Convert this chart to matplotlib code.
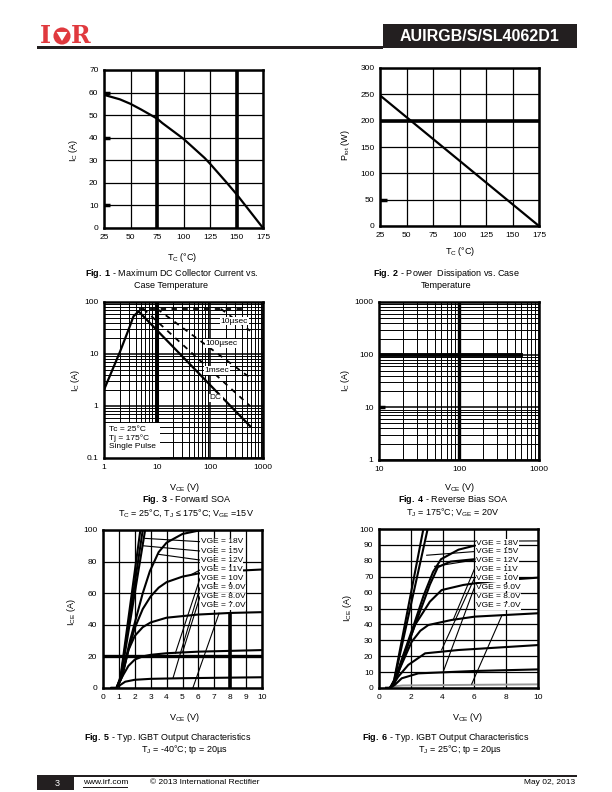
import matplotlib
matplotlib.use("Agg")
import matplotlib.pyplot as plt
from matplotlib.patches import Rectangle, Circle, Polygon
from matplotlib.ticker import LogLocator, NullFormatter

plt.rcParams['font.family'] = ['Liberation Sans', 'DejaVu Sans']
plt.rcParams['mathtext.fontset'] = 'custom'
plt.rcParams['mathtext.rm'] = 'Liberation Sans'
plt.rcParams['mathtext.it'] = 'Liberation Sans:italic'
plt.rcParams['mathtext.bf'] = 'Liberation Sans:bold'

# Fig 1: corriente DC maxima vs temperatura de carcasa
tc1 = [25, 40, 50, 60, 75, 80, 100, 120, 125, 140, 150, 160, 175]
ic1 = [59, 57, 55, 52.5, 48.5, 46.5, 39.5, 31, 28.5, 20.5, 15, 9, 0]

# Fig 2: disipacion
tc2 = [25, 175]
ptot2 = [248, 0]

# Fig 3: SOA directa
dc_v = [1, 2, 3, 3.6, 4.5, 570]
dc_i = [2.05, 11, 32, 53, 66, 0.41]
top_v = [4.5, 490]
top_i = [74, 74]
us10_v = [160, 570]
us10_i = [74, 28]
us100_v = [10, 570]
us100_i = [74, 3.5]
ms1_v = [5.5, 570]
ms1_i = [74, 1.0]
soa_labels = ["10µsec", "100µsec", "1msec", "DC"]
soa_lab_v = [290, 166, 136, 128]
soa_lab_i = [43, 16, 4.8, 1.43]

# Fig 4: RBSOA
rb_v = [10, 600]
rb_i = [100, 100]

# Fig 5: caracteristicas de salida, Tj = -40C
vge_names = ["VGE = 18V", "VGE = 15V", "VGE = 12V", "VGE = 11V",
             "VGE = 10V", "VGE = 9.0V", "VGE = 8.0V", "VGE = 7.0V"]
f5_curves = [
    ([0.55, 0.85, 1.1, 2.35], [0, 0, 7, 100]),
    ([0.55, 0.85, 1.1, 2.5], [0, 0, 6, 100]),
    ([0.55, 0.85, 1.1, 2.65], [0, 0, 5, 100]),
    ([0.55, 0.85, 1.2, 1.7, 2.1, 2.5, 2.95, 3.5, 4.0, 5.0, 6.2],
     [0, 0, 8, 30, 45, 60, 74, 86, 92, 97.5, 100]),
    ([0.55, 0.85, 1.2, 1.6, 2.0, 2.5, 3.0, 3.5, 4.0, 5.0, 6.0, 8.0, 10],
     [0, 0, 7, 24, 38, 50, 58, 63.5, 67, 70.5, 72.5, 74, 75]),
    ([0.55, 0.85, 1.2, 1.6, 2.0, 2.5, 3.0, 4.0, 6.0, 8.0, 10],
     [0, 0, 8, 24, 33, 38.5, 41.5, 44.5, 46.5, 47.5, 48]),
    ([0.55, 0.85, 1.2, 1.6, 2.0, 2.5, 3.0, 4.0, 6.0, 10],
     [0, 0, 7, 14, 18, 20, 21, 22, 23, 24]),
    ([0.55, 0.85, 1.1, 1.4, 2.0, 3.0, 5.0, 10],
     [0, 0, 2, 4, 5.2, 5.8, 6.2, 6.8]),
]
f5_lab_y = [92.6, 86.7, 81.0, 74.7, 69.4, 63.5, 57.8, 51.9]
f5_leaders = [((2.64, 94.7), (6.1, 92.6)), ((2.54, 90.0), (6.1, 86.7)),
              ((3.5, 84.6), (6.1, 81.0)), ((5.5, 71.5), (6.1, 74.7)),
              ((6.1, 69.4), (4.55, 22.0)), ((6.1, 63.5), (4.4, 6.2)),
              ((6.1, 57.8), (5.0, 22.5)), ((7.3, 47.3), (5.65, 0.0))]

# Fig 6: caracteristicas de salida, Tj = 25C
f6_curves = [
    ([0.45, 0.7, 0.95, 2.79], [0, 0, 5, 100]),
    ([0.45, 0.7, 0.95, 3.06], [0, 0, 4.5, 100]),
    ([0.45, 0.7, 1.0, 1.5, 2.2, 2.8, 3.4, 3.9, 5.0, 6.0],
     [0, 0, 5, 20, 40, 58, 73, 81, 87, 89.5]),
    ([0.45, 0.7, 1.0, 1.5, 2.2, 2.8, 3.2, 3.7, 4.5, 6.0],
     [0, 0, 5, 19, 38, 54, 65, 76, 79.5, 81]),
    ([0.45, 0.7, 1.0, 1.4, 2.26, 2.8, 3.2, 3.94, 5.3, 6.0, 8.0, 10],
     [0, 0, 4, 15, 39.6, 48, 54.3, 61.6, 64.8, 65.8, 68, 69.4]),
    ([0.45, 0.7, 1.0, 1.3, 2.05, 2.6, 3.1, 4.57, 6.04, 10],
     [0, 0, 4, 12, 29, 36, 39.6, 42.8, 44.9, 47]),
    ([0.45, 0.7, 0.95, 1.2, 1.84, 2.9, 5.0, 10],
     [0, 0, 3, 7, 14.5, 21.8, 23.9, 27]),
    ([0.45, 0.7, 1.0, 1.43, 2.47, 6.0, 10],
     [0, 0, 2, 6.1, 9.2, 10.7, 11.7]),
]
f6_gray_v = [0.7, 1.5, 6.0, 10]
f6_gray_i = [0.8, 1.6, 2.0, 2.3]
f6_lab_y = [91.0, 85.7, 80.5, 74.8, 69.0, 63.2, 57.4, 51.6]
f6_leaders = [((3.0, 92.2), (10, 92.5)), ((3.0, 83.5), (6.0, 85.8)),
              ((3.5, 76.5), (6.0, 80.5)), ((6.0, 74.8), (4.67, 43.0)),
              ((6.0, 69.0), (3.94, 24.0)), ((6.0, 63.2), (4.05, 10.5)),
              ((7.7, 45.0), (5.83, 2.5))]

# ---------------- figura ----------------
W, H = 612, 792
fig = plt.figure(figsize=(W / 100, H / 100), dpi=100)


def caja(x0, y0, x1, y1):
    return fig.add_axes([x0 / W, 1 - y1 / H, (x1 - x0) / W, (y1 - y0) / H])


def texto(x, y, s, **kw):
    kw.setdefault('fontsize', 6.5)
    kw.setdefault('ha', 'center')
    kw.setdefault('va', 'center')
    fig.text(x / W, 1 - y / H, s, **kw)


def rect(x0, y0, x1, y1, color='#231f20'):
    fig.add_artist(Rectangle((x0 / W, 1 - y1 / H), (x1 - x0) / W, (y1 - y0) / H,
                             transform=fig.transFigure, fc=color, ec='none'))


def marco(ax):
    for sp in ax.spines.values():
        sp.set_linewidth(1.8)
        sp.set_zorder(6)
    ax.tick_params(length=0, labelsize=6, pad=4)
    ax.grid(True, color='k', lw=0.9)


def log_grid(ax):
    ax.xaxis.set_minor_locator(LogLocator(base=10, subs=range(2, 10)))
    ax.yaxis.set_minor_locator(LogLocator(base=10, subs=range(2, 10)))
    ax.xaxis.set_minor_formatter(NullFormatter())
    ax.yaxis.set_minor_formatter(NullFormatter())
    ax.grid(True, which='minor', color='k', lw=0.7)
    ax.grid(True, which='major', color='k', lw=1.1)
    ax.tick_params(which='minor', length=0)


# ---- Fig 1 ----
ax1 = caja(104, 70, 263, 228)
ax1.plot(tc1, ic1, 'k', lw=1.6, zorder=5)
ax1.set_xlim(25, 175)
ax1.set_ylim(0, 70)
ax1.set_xticks(range(25, 176, 25))
ax1.set_yticks(range(0, 71, 10))
marco(ax1)
for t in [75, 150]:
    ax1.axvline(t, color='k', lw=2.6)
ax1.hlines([60, 40, 10], 25, 31, color='k', lw=2.5)
texto(73, 150, r'I$_\mathregular{C}$ (A)', rotation=90)
texto(182, 258, r'T$_\mathregular{C}$ (°C)')
texto(172, 273, r'$\mathbf{Fig.\ 1}$ - Maximum DC Collector Current vs.')
texto(171, 285, 'Case Temperature')

# ---- Fig 2 ----
ax2 = caja(380, 68, 539, 226)
ax2.plot(tc2, ptot2, 'k', lw=1.6, zorder=5)
ax2.set_xlim(25, 175)
ax2.set_ylim(0, 300)
ax2.set_xticks(range(25, 176, 25))
ax2.set_yticks(range(0, 301, 50))
marco(ax2)
ax2.axhline(200, color='k', lw=2.6)
ax2.hlines(50, 25, 32, color='k', lw=2.5)
texto(346, 145, r'P$_\mathregular{tot}$ (W)', rotation=90)
texto(460, 252, r'T$_\mathregular{C}$ (°C)')
texto(446, 273, r'$\mathbf{Fig.\ 2}$ - Power  Dissipation vs. Case')
texto(446, 285, 'Temperature')

# ---- Fig 3 ----
ax3 = caja(104, 302, 263, 458)
ax3.set_xscale('log')
ax3.set_yscale('log')
ax3.set_xlim(1, 1000)
ax3.set_ylim(0.1, 100)
ax3.set_xticks([1, 10, 100, 1000], ['1', '10', '100', '1000'])
ax3.set_yticks([0.1, 1, 10, 100], ['0.1', '1', '10', '100'])
marco(ax3)
log_grid(ax3)
ax3.axvline(10, color='k', lw=2.2)
ax3.plot(dc_v, dc_i, 'k', lw=1.6, zorder=4)
for vv, ii in [(top_v, top_i), (us10_v, us10_i), (us100_v, us100_i), (ms1_v, ms1_i)]:
    ax3.plot(vv, ii, 'k', lw=1.3, ls=(0, (3, 3)), zorder=4)
for s, vv, ii in zip(soa_labels, soa_lab_v, soa_lab_i):
    ax3.text(vv, ii, s, fontsize=6, ha='center', va='center', zorder=5,
             bbox=dict(fc='white', ec='none', pad=0.6))
ax3.add_patch(Rectangle((0, 0), 0.355, 0.225, transform=ax3.transAxes,
                        fc='white', ec='none', zorder=5))
ax3.text(0.03, 0.205, 'Tc = 25°C\nTj = 175°C\nSingle Pulse', transform=ax3.transAxes,
         fontsize=6, va='top', ha='left', zorder=6, linespacing=1.25)
texto(75, 380, r'I$_\mathregular{C}$ (A)', rotation=90)
texto(185, 487, r'V$_\mathregular{CE}$ (V)')
texto(187, 500, r'$\mathbf{Fig.\ 3}$ - Forward SOA')
texto(186, 513, r'T$_\mathregular{C}$ = 25°C, T$_\mathregular{J}$ ≤ 175°C; V$_\mathregular{GE}$ =15V')

# ---- Fig 4 ----
ax4 = caja(379, 302, 539, 460)
ax4.set_xscale('log')
ax4.set_yscale('log')
ax4.set_xlim(10, 1000)
ax4.set_ylim(1, 1000)
ax4.set_xticks([10, 100, 1000], ['10', '100', '1000'])
ax4.set_yticks([1, 10, 100, 1000], ['1', '10', '100', '1000'])
marco(ax4)
log_grid(ax4)
ax4.axvline(100, color='k', lw=2.4)
ax4.plot(rb_v, rb_i, 'k', lw=2.8, zorder=4)
ax4.hlines(10, 10, 12, color='k', lw=2.5)
texto(346, 380, r'I$_\mathregular{C}$ (A)', rotation=90)
texto(460, 487, r'V$_\mathregular{CE}$ (V)')
texto(453, 500, r'$\mathbf{Fig.\ 4}$ - Reverse Bias SOA')
texto(453, 512, r'T$_\mathregular{J}$ = 175°C; V$_\mathregular{GE}$ = 20V')

# ---- Fig 5 ----
ax5 = caja(103, 530, 262, 688)
ax5.set_xlim(0, 10)
ax5.set_ylim(0, 100)
ax5.set_xticks(range(0, 11))
ax5.set_yticks(range(0, 101, 20))
marco(ax5)
ax5.axhline(20, color='k', lw=2.4)
ax5.vlines(8, 0, 48, color='k', lw=2.6)
for vv, ii in f5_curves:
    ax5.plot(vv, ii, 'k', lw=1.5, zorder=4, clip_on=True)
for (a, b) in f5_leaders:
    ax5.plot([a[0], b[0]], [a[1], b[1]], 'k', lw=0.8, zorder=4)
for s, yy in zip(vge_names, f5_lab_y):
    ax5.text(6.15, yy, s, fontsize=6, ha='left', va='center', zorder=5,
             bbox=dict(fc='white', ec='none', pad=0.3))
texto(72, 612, r'I$_\mathregular{CE}$ (A)', rotation=90)
texto(185, 718, r'V$_\mathregular{CE}$ (V)')
texto(168, 738, r'$\mathbf{Fig.\ 5}$ - Typ. IGBT Output Characteristics')
texto(184, 750, r'T$_\mathregular{J}$ = -40°C; tp = 20µs')

# ---- Fig 6 ----
ax6 = caja(379, 529, 538, 688)
ax6.set_xlim(0, 10)
ax6.set_ylim(0, 100)
ax6.set_xticks(range(0, 11, 2))
ax6.set_yticks(range(0, 101, 10))
marco(ax6)
ax6.plot(f6_gray_v, f6_gray_i, color='#9a9a9a', lw=1.4, zorder=4)
for vv, ii in f6_curves:
    ax6.plot(vv, ii, 'k', lw=1.5, zorder=4)
for (a, b) in f6_leaders:
    ax6.plot([a[0], b[0]], [a[1], b[1]], 'k', lw=0.8, zorder=4)
for s, yy in zip(vge_names, f6_lab_y):
    ax6.text(6.1, yy, s, fontsize=6, ha='left', va='center', zorder=5,
             bbox=dict(fc='white', ec='none', pad=0.3))
texto(347, 608, r'I$_\mathregular{CE}$ (A)', rotation=90)
texto(468, 718, r'V$_\mathregular{CE}$ (V)')
texto(446, 738, r'$\mathbf{Fig.\ 6}$ - Typ. IGBT Output Characteristics')
texto(460, 750, r'T$_\mathregular{J}$ = 25°C; tp = 20µs')

# ---- cabecera ----
rojo = '#e0393e'
rect(383, 24, 577, 48)
rect(37, 46, 383, 48.5)
texto(480, 36.5, 'AUIRGB/S/SL4062D1', fontsize=11.5, color='white', fontweight='bold')
texto(45, 36, 'I', fontsize=17, color=rojo, fontweight='bold', family='DejaVu Serif')
texto(81, 36, 'R', fontsize=17, color=rojo, fontweight='bold', family='DejaVu Serif')
logo = caja(53, 27, 71, 45)
logo.set_xlim(-1, 1)
logo.set_ylim(-1, 1)
logo.axis('off')
logo.add_patch(Circle((0, 0), 0.95, fc=rojo, ec='none'))
logo.add_patch(Polygon([(-0.6, 0.45), (0.6, 0.45), (0, -0.55)], fc='white', ec='none'))

# ---- pie ----
rect(37, 775, 577, 777)
rect(37, 775, 74, 790)
texto(57, 783, '3', fontsize=6.5, color='white')
texto(83, 783, 'www.irf.com', fontsize=6, ha='left')
rect(83, 787, 128, 787.6)
texto(150, 783, '© 2013 International Rectifier', fontsize=6, ha='left')
texto(575, 783, 'May 02, 2013', fontsize=6, ha='right')

fig.savefig('out.png', dpi=100)
